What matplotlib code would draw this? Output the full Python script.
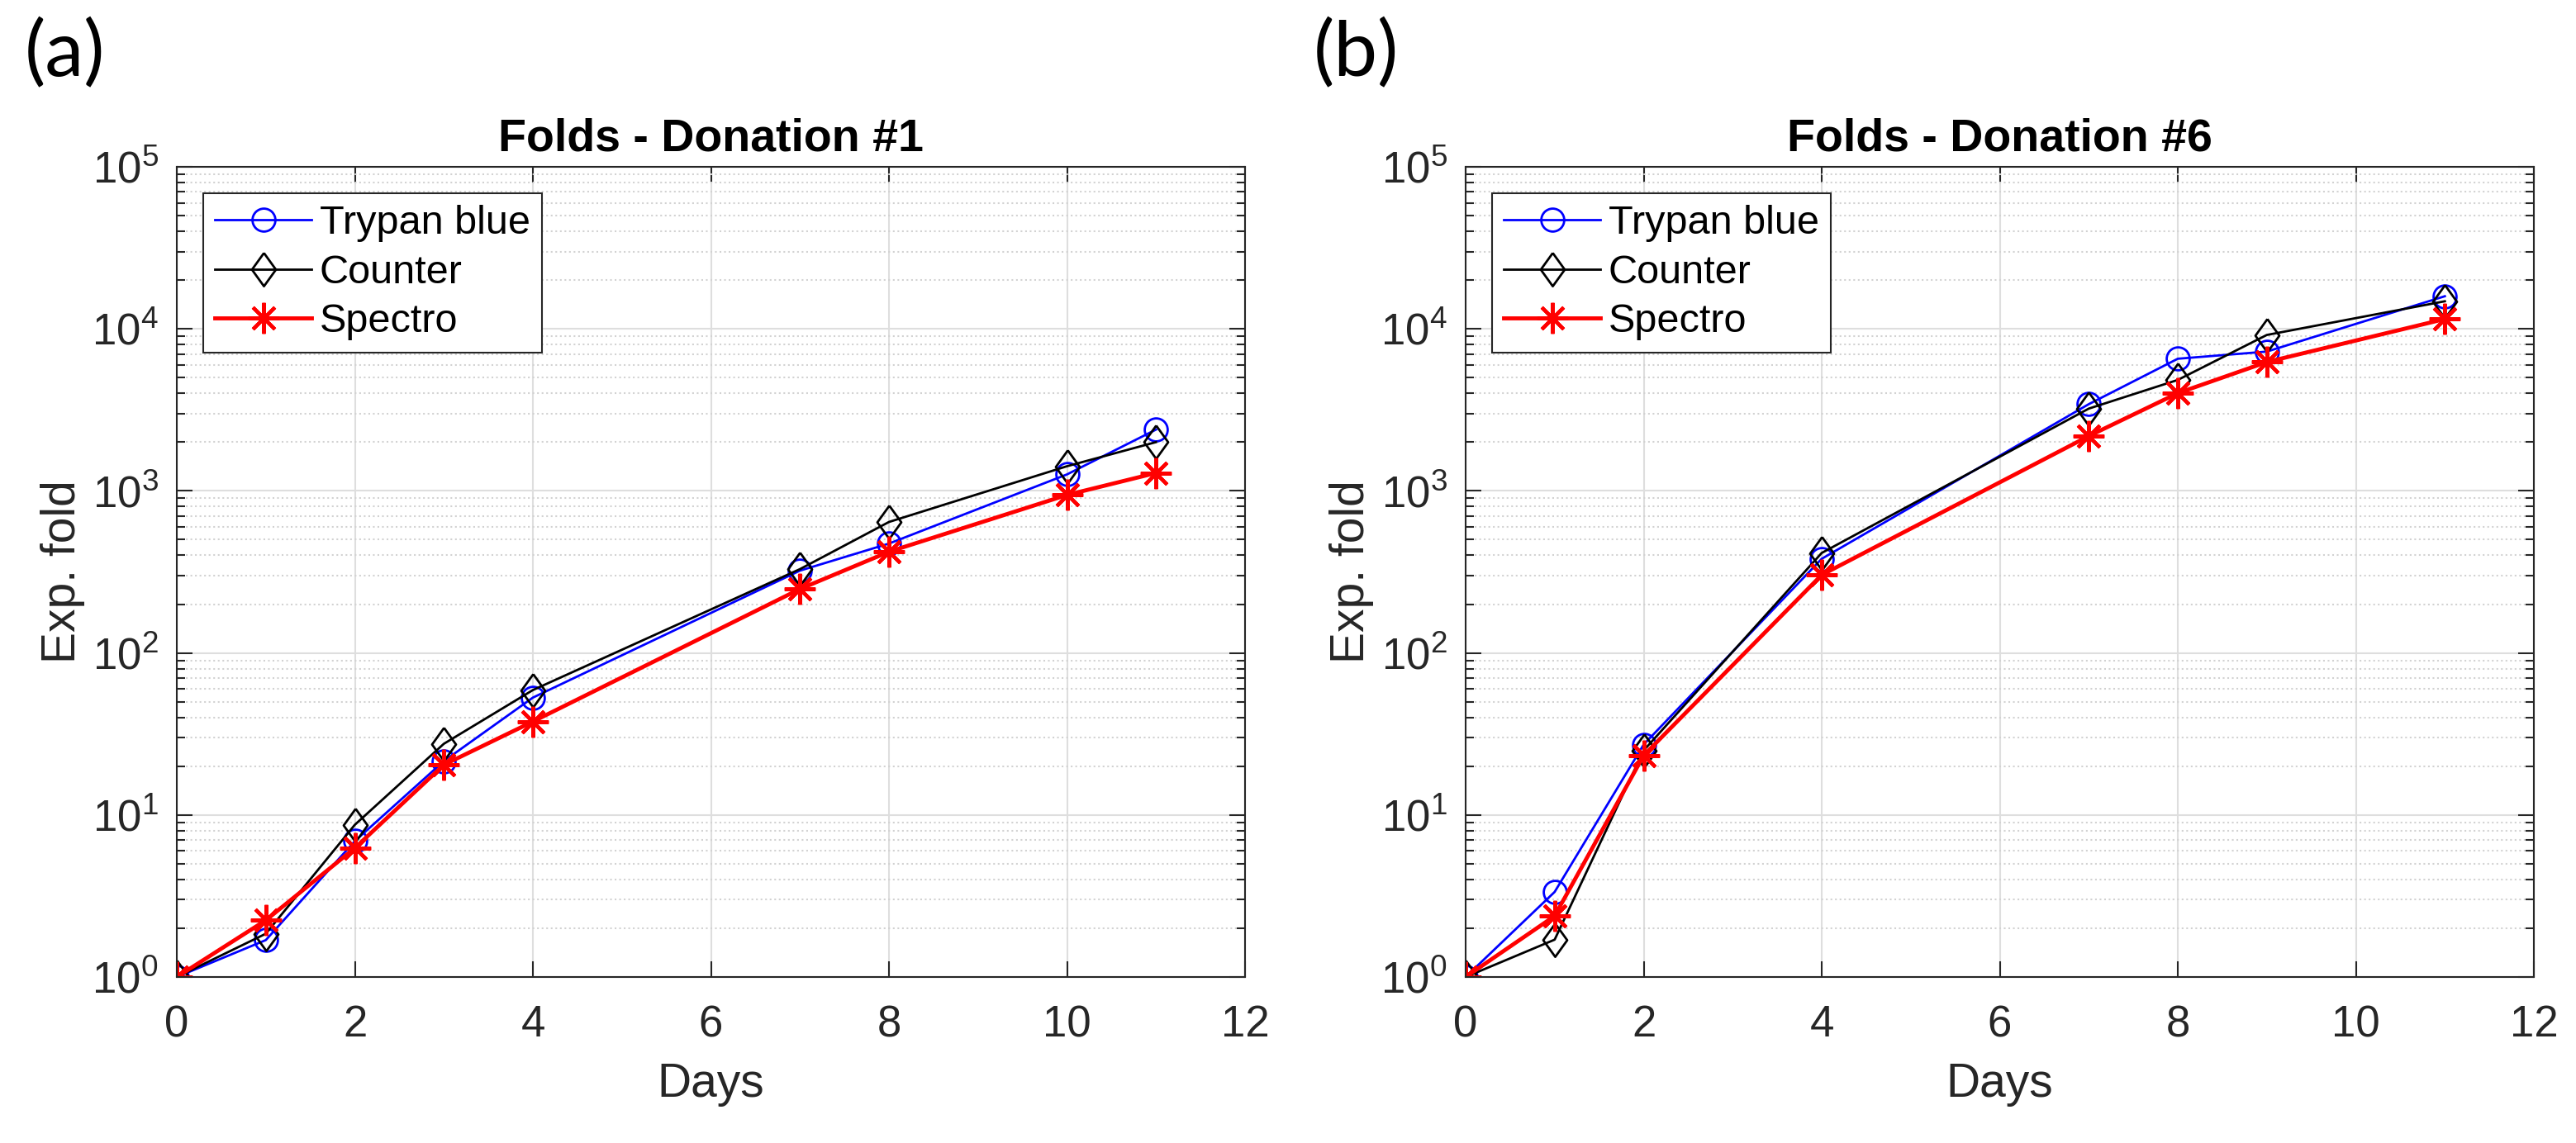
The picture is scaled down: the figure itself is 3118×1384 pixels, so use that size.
import numpy as np
import matplotlib
matplotlib.use('Agg')
from matplotlib import pyplot as plt
from matplotlib.ticker import LogLocator, NullFormatter

plt.rcParams['font.family'] = ['Liberation Sans', 'DejaVu Sans']
plt.rcParams['mathtext.fontset'] = 'custom'
plt.rcParams['mathtext.rm'] = 'Liberation Sans'
plt.rcParams['mathtext.it'] = 'Liberation Sans:italic'
plt.rcParams['mathtext.bf'] = 'Liberation Sans:bold'

# donation #1
days_1 = [0, 1, 2, 3, 4, 7, 8, 10, 11]
trypan_1 = [1, 1.69, 6.9, 21.5, 53, 322, 473, 1264, 2390]
counter_1 = [1, 1.85, 8.7, 27.5, 59, 329, 643, 1420, 2000]
spectro_1 = [1, 2.24, 6.25, 20.4, 37.7, 248, 421, 944, 1290]

# donation #6
days_6 = [0, 1, 2, 4, 7, 8, 9, 11]
trypan_6 = [1, 3.35, 27.2, 381, 3430, 6540, 7240, 15900]
counter_6 = [1, 1.7, 25, 414, 3220, 4840, 9170, 14800]
spectro_6 = [1, 2.38, 23.3, 303, 2180, 4010, 6240, 11500]

titles = ['Folds - Donation #1', 'Folds - Donation #6']
panel_tags = ['(a)', '(b)']

W, H = 3118, 1384
dark = '#262626'
diamond = [(0, 1), (0.72, 0), (0, -1), (-0.72, 0), (0, 1)]


def draw_panel(ax, days, trypan, counter, spectro, title):
    ax.plot(days, trypan, color='b', lw=2, marker='o', ms=20,
            mfc='none', mec='b', mew=2, label='Trypan blue')
    ax.plot(days, counter, color='k', lw=2, marker=diamond, ms=29,
            mfc='none', mec='k', mew=2, label='Counter')
    ax.plot(days, spectro, color='r', lw=3.5, marker=(8, 2, 0), ms=27,
            mec='r', mew=3, label='Spectro')

    ax.set_yscale('log')
    ax.set_ylim(1, 1e5)
    ax.set_xlim(0, 12)
    ax.set_xticks(range(0, 13, 2))
    ax.yaxis.set_major_locator(LogLocator(base=10, numticks=10))
    ax.yaxis.set_minor_locator(LogLocator(base=10, subs=np.arange(2, 10), numticks=20))
    ax.yaxis.set_minor_formatter(NullFormatter())

    ax.set_axisbelow(True)
    ax.grid(which='major', color='#dedede', lw=1.5, ls='-')
    ax.yaxis.grid(which='minor', color='#d2d2d2', lw=1.5, ls=':')

    ax.tick_params(which='both', direction='in', top=True, right=True,
                   color=dark, labelcolor=dark, width=1.5)
    ax.tick_params(which='major', length=14, labelsize=38)
    ax.tick_params(which='minor', length=7)
    ax.tick_params(axis='x', pad=24)
    ax.tick_params(axis='y', pad=16)
    for sp in ax.spines.values():
        sp.set_color(dark)
        sp.set_linewidth(1.5)

    ax.set_xlabel('Days', fontsize=41, color=dark, labelpad=14)
    ax.set_ylabel('Exp. fold', fontsize=41, color=dark, labelpad=6)
    ax.set_title(title, fontsize=40, fontweight='bold', pad=14)

    leg = ax.legend(loc='upper left', fontsize=35, fancybox=False, framealpha=1,
                    edgecolor=dark, handlelength=2.4, handletextpad=0.2,
                    borderpad=0.3, labelspacing=0.3, borderaxespad=0.65,
                    numpoints=1)
    leg.get_frame().set_linewidth(1.5)


fig = plt.figure(figsize=(W / 100, H / 100), dpi=100)

data = [(days_1, trypan_1, counter_1, spectro_1),
        (days_6, trypan_6, counter_6, spectro_6)]
lefts = [214, 1774]

for i in range(2):
    ax = fig.add_axes([lefts[i] / W, 1 - 1183 / H, 1293 / W, 981 / H])
    draw_panel(ax, *data[i], titles[i])
    fig.text((lefts[i] - 184) / W, 1 - 22 / H, panel_tags[i], fontsize=68,
             family=['Lato', 'DejaVu Sans'], va='top', ha='left')

fig.savefig('out.png', dpi=100, facecolor='white')
